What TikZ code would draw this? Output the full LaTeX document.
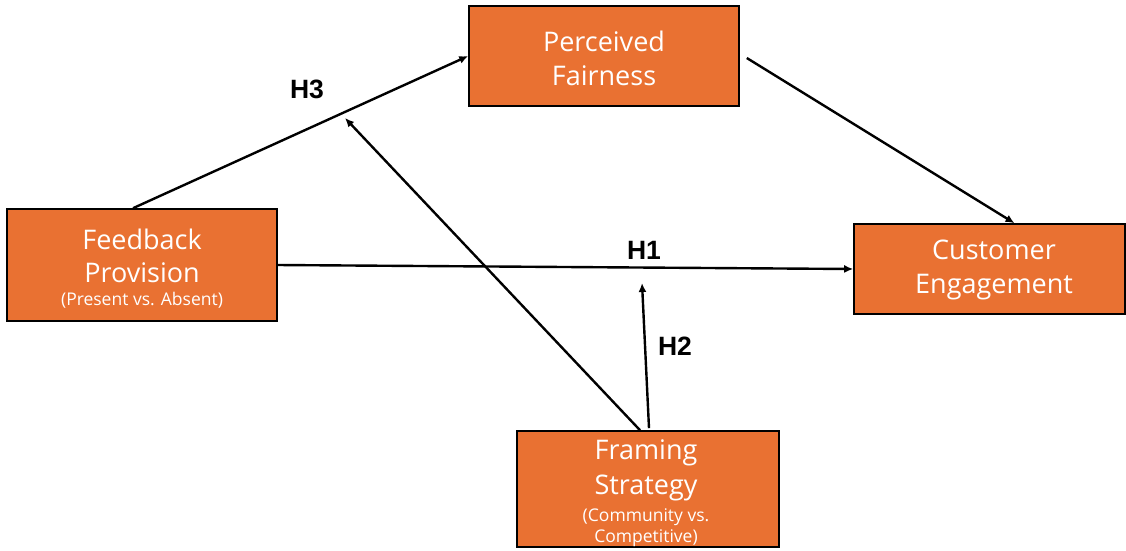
\documentclass[tikz,border=0pt]{standalone}
\usepackage{fontspec}
\setmainfont{Open Sans}
\newfontfamily\labfont{Liberation Sans}
\usetikzlibrary{arrows.meta}
\definecolor{boxorange}{HTML}{E97132}
\tikzset{
  box/.style={draw=black, line width=1.6pt, fill=boxorange, rectangle, inner sep=0pt},
  txt/.style={text=white, align=center, font=\fontsize{27}{34}\selectfont, inner sep=0pt},
  small/.style={font=\fontsize{17.5}{22}\selectfont},
  conn/.style={line width=2.4pt, -{Latex[length=9pt,width=8pt]}},
  hlab/.style={font=\labfont\bfseries\fontsize{26.5}{28}\selectfont, inner sep=0pt}
}
\begin{document}
\begin{tikzpicture}[x=1pt,y=-1pt]
\useasboundingbox (0,0) rectangle (1126,550);
% boxes
\node[box, minimum width=270pt, minimum height=112pt] (fb) at (142,265) {};
\node[box, minimum width=270pt, minimum height=100pt] (pf) at (604,56) {};
\node[box, minimum width=271pt, minimum height=90pt] (ce) at (989.5,269) {};
\node[box, minimum width=262pt, minimum height=116pt] (fs) at (648,489) {};
% texts
\node[txt] (fbt1) at (142,239) {Feedback};
\node[txt] (fbt2) at (142,273) {Provision};
\node[txt, small] (fbt3) at (142,300) {(Present vs. Absent)};
\node[txt] (pft) at (604,58) {Perceived\\Fairness};
\node[txt] (cet) at (994,270) {Customer\\Engagement};
\node[txt] (fst1) at (646,453) {Framing};
\node[txt] (fst2) at (646,488) {Strategy};
\node[txt, small] (fst3) at (646,517) {(Community vs.};
\node[txt, small] (fst4) at (646,538) {Competitive)};
% helper coordinates
\coordinate (h3t) at (345,118);
\coordinate (h1t) at (642,283);
% connectors
\draw[conn] ([xshift=-9pt]fb.north) -- (pf.west);
\draw[conn] ([xshift=7pt,yshift=-2pt]pf.east) -- ([xshift=25pt]ce.north);
\draw[conn] (fb.east) -- (ce.west);
\draw[conn] ([xshift=-8pt]fs.north) -- (h3t);
\draw[conn] ([xshift=1pt,yshift=2pt]fs.north) -- (h1t);
% labels
\node[hlab] (l3) at (307,89) {H3};
\node[hlab] (l1) at (644,250) {H1};
\node[hlab] (l2) at (675,346) {H2};
\end{tikzpicture}
\end{document}
